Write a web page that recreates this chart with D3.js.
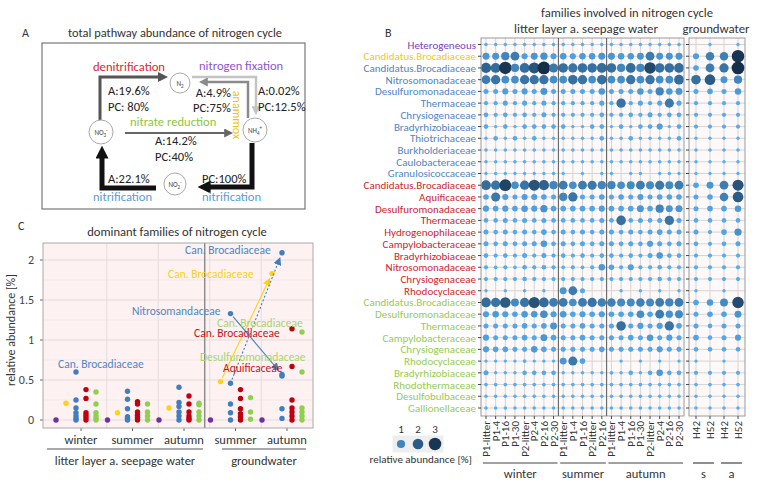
<!DOCTYPE html>
<html><head><meta charset="utf-8">
<script src="https://cdn.jsdelivr.net/npm/d3@7"></script>
<style>body{margin:0;background:#fff} svg{font-family:Carlito,Lato,"Open Sans",sans-serif}</style>
</head><body><svg id="c" width="759" height="487"></svg>
<script>
// ---------------- DATA ----------------
// Panel B (bubble grid)
const rowLabels = ["Heterogeneous","Candidatus.Brocadiaceae",
 "Candidatus.Brocadiaceae","Nitrosomonadaceae","Desulfuromonadaceae","Thermaceae","Chrysiogenaceae","Bradyrhizobiaceae","Thiotrichaceae","Burkholderiaceae","Caulobacteraceae","Granulosicoccaceae",
 "Candidatus.Brocadiaceae","Aquificaceae","Desulfuromonadaceae","Thermaceae","Hydrogenophilaceae","Campylobacteraceae","Bradyrhizobiaceae","Nitrosomonadaceae","Chrysiogenaceae","Rhodocyclaceae",
 "Candidatus.Brocadiaceae","Desulfuromonadaceae","Thermaceae","Campylobacteraceae","Chrysiogenaceae","Rhodocyclaceae","Bradyrhizobiaceae","Rhodothermaceae","Desulfobulbaceae","Gallionellaceae"];
const rowGroups = ["purple","yellow","blue","blue","blue","blue","blue","blue","blue","blue","blue","blue",
 "red","red","red","red","red","red","red","red","red","red",
 "green","green","green","green","green","green","green","green","green","green"];
const litterCols = ["P1-litter","P1-4","P1-16","P1-30","P2-litter","P2-4","P2-16","P2-30",
 "P1-litter","P1-4","P1-16","P2-litter","P2-16",
 "P1-litter","P1-4","P1-16","P1-30","P2-litter","P2-4","P2-16","P2-30"];
const litterSeasons = [["winter",0,7],["summer",8,12],["autumn",13,20]];
const gwCols = ["H42","H52","H42","H52"];
const gwSeasons = [["s",0,1],["a",2,3]];
// litter layer / seepage water abundances (21 columns per row)
const litterVals = [
 [0.04,0.04,0.04,0.04,0.04,0.04,0.04,0.04, 0.04,0.04,0.04,0.04,0.04, 0.04,0.04,0.04,0.04,0.04,0.04,0.04,0.04],
 [0.6,0.6,1.0,1.2,0.4,0.6,0.7,0.4, 0.5,0.4,0.5,0.5,0.6, 0.6,0.5,0.5,0.6,1.2,0.6,0.6,0.6],
 [1.8,1.6,3.0,1.0,1.6,2.2,3.2,1.3, 1.5,1.4,1.5,1.5,1.6, 1.5,1.0,1.6,1.0,2.5,1.5,1.5,1.6],
 [1.2,1.4,0.8,0.8,1.4,1.4,1.4,0.8, 0.8,1.5,1.4,0.8,1.5, 0.8,0.8,1.4,0.8,1.4,0.8,0.8,1.6],
 [0.2,0.2,0.4,0.2,0.4,0.2,0.6,0.2, 0.2,0.2,0.2,0.2,0.5, 0.2,0.2,0.2,0.5,0.2,1.0,0.5,0.6],
 [0.1,0.1,0.2,0.1,0.2,0.1,0.2,0.1, 0.1,0.1,0.1,0.1,0.2, 0.1,1.4,0.1,0.2,0.1,0.2,1.3,0.2],
 [0.15,0.1,0.15,0.1,0.15,0.1,0.2,0.1, 0.1,0.1,0.1,0.1,0.15, 0.1,0.1,0.15,0.1,0.2,0.1,0.15,0.15],
 [0.15,0.03,0.15,0.03,0.15,0.15,0.15,0.15, 0.15,0.03,0.03,0.15,0.15, 0.03,0.15,0.03,0.15,0.15,0.4,0.03,0.15],
 [0.03,0.15,0.03,0.15,0.03,0.15,0.03,0.03, 0.03,0.03,0.03,0.03,0.15, 0.03,0.03,0.15,0.03,0.03,0.03,0.03,0.15],
 [0.04,0.04,0.04,0.04,0.04,0.04,0.04,0.04, 0.04,0.04,0.04,0.04,0.04, 0.04,0.04,0.04,0.04,0.04,0.04,0.04,0.04],
 [0.04,0.04,0.04,0.04,0.04,0.04,0.04,0.04, 0.04,0.04,0.04,0.04,0.04, 0.04,0.04,0.04,0.04,0.04,0.04,0.04,0.04],
 [0.03,0.03,0.03,0.03,0.03,0.03,0.03,0.03, 0.03,0,0.03,0,0.03, 0.03,0,0.03,0.03,0,0.03,0.03,0.03],
 [1.6,1.4,2.6,0.8,1.4,2.2,1.8,1.0, 1.2,0.8,1.2,1.3,1.0, 1.0,0.8,0.9,1.2,0.9,1.3,0.9,1.2],
 [0.3,1.3,0.4,0.2,0.4,0.4,0.3,0.2, 1.0,1.4,0.2,0.2,0.3, 0.2,0.3,0.2,0.4,0.2,0.3,0.3,0.3],
 [0.4,0.3,0.4,0.3,0.5,0.4,0.7,0.3, 0.3,0.3,0.3,0.3,0.4, 0.3,0.3,0.3,0.6,0.3,1.0,0.6,0.6],
 [0.15,0.15,0.2,0.15,0.2,0.15,0.2,0.15, 0.15,0.15,0.15,0.15,0.2, 0.15,1.5,0.15,0.2,0.15,0.2,1.4,0.2],
 [0.2,0.15,0.2,0.15,0.2,0.15,0.3,0.15, 0.2,0.15,0.2,0.15,0.2, 0.2,0.15,0.2,0.15,0.2,0.3,0.2,0.2],
 [0.2,0.15,0.2,0.15,0.2,0.2,0.5,0.15, 0.2,0.15,0.2,0.15,0.2, 0.2,0.15,0.2,0.15,0.4,0.2,0.15,0.2],
 [0.15,0.1,0.15,0.1,0.2,0.1,0.2,0.1, 0.15,0.1,0.15,0.1,0.15, 0.15,0.1,0.15,0.1,0.2,0.5,0.15,0.15],
 [0.1,0.05,0.1,0.05,0.15,0.1,0.15,0.1, 0.05,0.1,0.05,0.1,0.5, 0.3,0.1,0.4,0.1,0.1,0.15,0.1,0.1],
 [0.1,0.1,0.1,0.1,0.15,0.1,0.1,0.1, 0.1,0.1,0.1,0.1,0.1, 0.1,0.1,0.1,0.1,0.1,0.15,0.1,0.1],
 [0.03,0,0.03,0,0.03,0,0.03,0, 0.6,1.2,0.2,0,0, 0,0.03,0,0.03,0,0.03,0,0.03],
 [1.6,1.4,2.0,0.9,1.4,2.2,1.6,1.2, 1.2,0.8,1.2,1.4,1.1, 1.1,0.9,0.9,1.1,0.9,1.2,1.0,1.2],
 [0.4,0.5,0.4,0.3,0.5,0.5,0.8,0.4, 0.5,0.3,0.4,0.3,0.4, 0.3,0.3,0.3,0.8,0.3,1.2,0.7,0.9],
 [0.2,0.2,0.2,0.2,0.3,0.2,0.3,0.6, 0.2,0.2,0.3,0.2,0.2, 0.2,1.5,0.2,0.4,0.2,0.4,1.4,0.3],
 [0.4,0.2,0.2,0.2,0.3,0.2,0.6,0.3, 0.2,0.2,0.3,0.2,0.2, 0.2,0.2,0.3,0.2,0.5,0.2,0.4,0.2],
 [0.4,0.3,0.3,0.2,0.2,0.5,0.3,0.2, 0.2,0.2,0.2,0.2,0.3, 0.2,0.2,0.2,0.2,0.2,0.4,0.2,0.2],
 [0.03,0.03,0.03,0.03,0.05,0.03,0.03,0.03, 0.6,1.3,0.3,0,0, 0,0.03,0,0.03,0,0.03,0,0.03],
 [0.2,0.03,0.03,0.03,0.15,0.15,0.15,0.15, 0.03,0.03,0.03,0.03,0.03, 0.05,0.03,0.15,0.03,0.15,0.5,0.15,0.15],
 [0.05,0.05,0.05,0.05,0.05,0.05,0.05,0.05, 0.05,0.05,0.05,0.05,0.05, 0.05,0.05,0.05,0.05,0.05,0.05,0.05,0.05],
 [0.04,0.04,0.04,0.04,0.04,0.04,0.04,0.04, 0.04,0.04,0.04,0.04,0.04, 0.04,0.04,0.04,0.04,0.04,0.04,0.04,0.04],
 [0.04,0.04,0.04,0.04,0.04,0.04,0.04,0.04, 0.04,0.04,0.04,0.04,0.04, 0.04,0.04,0.04,0.04,0.04,0.04,0.04,0.04]
];
// groundwater abundances (4 columns per row)
const gwVals = [
 [0,0.03,0,0.03],[0.4,1.1,1.1,3.0],[0.3,1.2,1.4,3.2],[1.5,2.0,0.6,1.0],[0.2,0.3,0.2,0.5],
 [0.1,0.1,0.1,0.1],[0.1,0.1,0.1,0.1],[0.1,0.1,0.1,0.1],[0.03,0.03,0.03,0.03],[0.04,0.04,0.04,0.04],
 [0.03,0.03,0.03,0.03],[0.03,0.03,0.03,0.03],
 [0.3,0.6,1.2,2.2],[0.2,0.3,1.1,2.0],[0.2,0.3,0.3,0.5],[0.15,0.15,0.15,0.15],[0.2,0.1,0.3,0.7],
 [0.15,0.1,0.15,0.2],[0.1,0.1,0.1,0.1],[0.1,0.1,0.1,0.1],[0.1,0.1,0.1,0.1],[0.03,0,0.03,0],
 [0.3,0.5,0.9,2.4],[0.2,0.3,0.3,0.6],[0.2,0.15,0.2,0.2],[0.3,0.15,0.2,0.4],[0.15,0.15,0.15,0.15],
 [0.03,0,0.03,0],[0.1,0.1,0.1,0.1],[0.05,0.05,0.05,0.05],[0.04,0.04,0.04,0.04],[0.04,0.04,0.04,0.04]
];
const legendValues = [1,2,3];

// Panel C (dominant families)
const catKeys = ["w","s","a","gs","ga"];
const catLabels = ["winter","summer","autumn","summer","autumn"];
const seriesNames = ["purple","yellow","blue","red","green"];
const purpleVals = [[0],[0],[0],[0],[0]];
const yellowVals = [[0.21],[0.09],[0.15],[0.48],[1.83]];
const blueVals = [[0.6,0.25,0.15,0.09,0.05,0.02,0],[0.36,0.26,0.14,0.04,0.02,0],[0.41,0.22,0.17,0.1,0.05,0],[1.33,0.46,0.2,0.09,0],[2.09,0.57,0.55,0.14,0.02]];
const redVals = [[0.38,0.27,0.09,0.06,0.03,0],[0.23,0.2,0.1,0.06,0.03,0],[0.3,0.2,0.1,0.05,0.02,0],[0.38,0.27,0.14,0.08,0.04,0],[1.14,0.67,0.25,0.15,0.1,0.05,0]];
const greenVals = [[0.35,0.2,0.09,0.05,0.02,0],[0.2,0.1,0.05,0],[0.21,0.19,0.1,0.05,0],[0.28,0.1,0.01],[1.1,0.6,0.15,0.1,0.05,0]];
const yTicksC = [0,0.5,1,1.5,2];

// Panel A
const pathwayLabels = ["denitrification","nitrogen fixation","nitrate reduction","anammox","nitrification"];

// ---------------- COLOURS ----------------
const col = {purple:"#7b3fb8", yellow:"#f2c81c", blue:"#4f86c4", red:"#cf1f2c", green:"#94cc58"};
const dotCol = {purple:"#7030a0", yellow:"#ffd21a", blue:"#3f7fc0", red:"#c00010", green:"#8fd14f"};
const svg = d3.select("#c");
const txt = (g,x,y,s,o={}) => {
  const t = g.append("text").attr("x",x).attr("y",y).text(s)
    .attr("font-size",o.fs||12).attr("fill",o.fill||"#333").attr("text-anchor",o.anchor||"start");
  if (o.rot) t.attr("transform",`rotate(${o.rot},${x},${y})`);
  return t;
};
const defs = svg.append("defs");
function marker(id,color,size){
  defs.append("marker").attr("id",id).attr("viewBox","0 0 10 10").attr("refX",2).attr("refY",5)
   .attr("markerWidth",size).attr("markerHeight",size).attr("markerUnits","userSpaceOnUse")
   .attr("orient","auto").append("path").attr("d","M0,0L10,5L0,10z").attr("fill",color);
}
marker("mBlack","#111",13); marker("mDark","#555",10); marker("mGrey","#8a8a8a",9);
marker("mLight","#c4c4c4",9); marker("mMid","#666",9);
marker("mYel",dotCol.yellow,8); marker("mBlue",dotCol.blue,8);

// ---------------- PANEL A ----------------
const A = svg.append("g");
txt(A,22,37,"A",{fs:12});
txt(A,175,37,"total pathway abundance of nitrogen cycle",{fs:12.4,anchor:"middle"});
A.append("rect").attr("x",42).attr("y",43).attr("width",263).attr("height",166)
 .attr("fill","none").attr("stroke","#777").attr("stroke-width",1.2);
const nodes = [{k:"N",sub:"2",sup:"",x:180,y:83,r:10},{k:"NO",sub:"3",sup:"-",x:101,y:132,r:12},
               {k:"NH",sub:"4",sup:"+",x:255,y:130,r:12},{k:"NO",sub:"2",sup:"-",x:175,y:184,r:11}];
const arrows = [
 {d:"M100,120V77H160",c:"#555",w:3,m:"mDark"},
 {d:"M192,77H256V108",c:"#c4c4c4",w:2.5,m:"mLight"},
 {d:"M248,118V82H206",c:"#8a8a8a",w:2.5,m:"mGrey"},
 {d:"M125,133H226",c:"#666",w:2,m:"mMid"},
 {d:"M252,143V187H208",c:"#111",w:5,m:"mBlack"},
 {d:"M156,188H102V156",c:"#111",w:5,m:"mBlack"}];
A.selectAll("path.ar").data(arrows).join("path").attr("d",d=>d.d).attr("fill","none")
 .attr("stroke",d=>d.c).attr("stroke-width",d=>d.w).attr("marker-end",d=>`url(#${d.m})`);
nodes.forEach(n=>{
  A.append("circle").attr("cx",n.x).attr("cy",n.y).attr("r",n.r).attr("fill","#fff").attr("stroke","#aaa");
  const t = A.append("text").attr("x",n.x).attr("y",n.y+2.5).attr("text-anchor","middle").attr("font-size",7).attr("fill","#444");
  t.append("tspan").text(n.k);
  t.append("tspan").attr("font-size",5).attr("dy",2).text(n.sub);
  if(n.sup) t.append("tspan").attr("font-size",5).attr("dy",-5).text(n.sup);
});
const fsA = 12.5;
txt(A,93,71,pathwayLabels[0],{fs:12.6,fill:"#e0262a"});
txt(A,199,70,pathwayLabels[1],{fs:12.6,fill:"#8e55cc"});
txt(A,130,126,pathwayLabels[2],{fs:12.6,fill:"#8cc63f"});
txt(A,233,115,pathwayLabels[3],{fs:12,fill:"#f2c200",anchor:"middle",rot:90});
txt(A,93,201,pathwayLabels[4],{fs:12.6,fill:"#5b9bd5"});
txt(A,202,201,pathwayLabels[4],{fs:12.6,fill:"#5b9bd5"});
txt(A,108,95,"A:19.6%",{fs:fsA,fill:"#222"}); txt(A,108,111,"PC: 80%",{fs:fsA,fill:"#222"});
txt(A,231,97,"A:4.9%",{fs:fsA,fill:"#222",anchor:"end"}); txt(A,231,112,"PC:75%",{fs:fsA,fill:"#222",anchor:"end"});
txt(A,258,95,"A:0.02%",{fs:fsA,fill:"#222"}); txt(A,258,111,"PC:12.5%",{fs:fsA,fill:"#222"});
txt(A,155,145,"A:14.2%",{fs:fsA,fill:"#222"}); txt(A,155,161,"PC:40%",{fs:fsA,fill:"#222"});
txt(A,108,183,"A:22.1%",{fs:fsA,fill:"#222"}); txt(A,202,183,"PC:100%",{fs:fsA,fill:"#222"});

// ---------------- PANEL C ----------------
const C = svg.append("g");
txt(C,18,230,"C",{fs:12});
txt(C,177,236,"dominant families of nitrogen cycle",{fs:12.6,anchor:"middle"});
const pl = {l:43,r:313,t:243,b:428};
const xC = d3.scalePoint().domain(catKeys).range([81,287]);
const dodge = d3.scalePoint().domain(seriesNames).range([-25,15]);
const yC = d3.scaleLinear().domain([0,2]).range([420,260]);
C.append("rect").attr("x",pl.l).attr("y",pl.t).attr("width",pl.r-pl.l).attr("height",pl.b-pl.t).attr("fill","#fdf1f1");
const minor = d3.range(0.25,2.2,0.5);
C.selectAll("line.mn").data(minor).join("line").attr("x1",pl.l).attr("x2",pl.r).attr("y1",d=>yC(d)).attr("y2",d=>yC(d)).attr("stroke","#f1e6e6").attr("stroke-width",0.6);
C.selectAll("line.mj").data(yTicksC).join("line").attr("x1",pl.l).attr("x2",pl.r).attr("y1",d=>yC(d)).attr("y2",d=>yC(d)).attr("stroke","#e6dcdc").attr("stroke-width",1);
const mids = d3.pairs(catKeys).map(([a,b])=>(xC(a)+xC(b))/2);
C.selectAll("line.vg").data(mids).join("line").attr("y1",pl.t).attr("y2",pl.b).attr("x1",d=>d).attr("x2",d=>d).attr("stroke","#e6dcdc");
C.selectAll("text.yt").data(yTicksC).join("text").attr("x",34).attr("y",d=>yC(d)+4).attr("text-anchor","end")
 .attr("font-size",12).attr("fill","#444").text(d=>d);
C.selectAll("line.yt").data(yTicksC).join("line").attr("x1",40).attr("x2",pl.l).attr("y1",d=>yC(d)).attr("y2",d=>yC(d)).attr("stroke","#666");
txt(C,15,330,"relative abundance [%]",{fs:12,anchor:"middle",rot:-90,fill:"#333"});
C.selectAll("line.xt").data(catKeys).join("line").attr("x1",d=>xC(d)).attr("x2",d=>xC(d)).attr("y1",pl.b).attr("y2",pl.b+3).attr("stroke","#666");
C.selectAll("text.xl").data(catKeys).join("text").attr("x",d=>xC(d)).attr("y",444).attr("text-anchor","middle")
 .attr("font-size",12.5).attr("fill","#333").text((d,i)=>catLabels[i]);
// separator between litter/seepage and groundwater
const sepX = (xC("a")+dodge("green") + xC("gs")+dodge("purple"))/2;
C.append("line").attr("x1",sepX).attr("x2",sepX).attr("y1",pl.t).attr("y2",pl.b).attr("stroke","#777").attr("stroke-width",1.2);
C.append("rect").attr("x",pl.l).attr("y",pl.t).attr("width",pl.r-pl.l).attr("height",pl.b-pl.t).attr("fill","none").attr("stroke","#aaa");
const seriesVals = {purple:purpleVals,yellow:yellowVals,blue:blueVals,red:redVals,green:greenVals};
const pts = [];
seriesNames.forEach(s=>catKeys.forEach((k,i)=>seriesVals[s][i].forEach(v=>pts.push({s,k,v}))));
C.selectAll("circle.pt").data(pts).join("circle").attr("cx",d=>xC(d.k)+dodge(d.s)).attr("cy",d=>yC(d.v))
 .attr("r",2.7).attr("fill",d=>dotCol[d.s]);
// arrows between groundwater seasons
function arrowBetween(s,i0,j0,i1,j1,color,m,dash){
  const x0=xC(catKeys[i0])+dodge(s), y0=yC(seriesVals[s][i0][j0]);
  const x1=xC(catKeys[i1])+dodge(s), y1=yC(seriesVals[s][i1][j1]);
  const L=Math.hypot(x1-x0,y1-y0), sh=11/L, st=4/L;
  C.append("line").attr("x1",x0+(x1-x0)*st).attr("y1",y0+(y1-y0)*st).attr("x2",x1-(x1-x0)*sh).attr("y2",y1-(y1-y0)*sh)
   .attr("stroke",color).attr("stroke-width",1.1).attr("stroke-dasharray",dash||null).attr("marker-end",`url(#${m})`);
}
arrowBetween("yellow",3,0,4,0,dotCol.yellow,"mYel");
arrowBetween("blue",3,1,4,0,dotCol.blue,"mBlue","2,2");
arrowBetween("blue",3,0,4,1,dotCol.blue,"mBlue");
const fsC = 11.5;
txt(C,58,368,"Can. Brocadiaceae",{fs:fsC,fill:col.blue});
txt(C,185,254,"Can. Brocadiaceae",{fs:fsC,fill:col.blue});
txt(C,168,278,"Can. Brocadiaceae",{fs:fsC,fill:"#f5d21a"});
txt(C,132,315,"Nitrosomandaceae",{fs:fsC,fill:col.blue});
txt(C,217,327,"Can. Brocadiaceae",{fs:fsC,fill:"#a8d46e"});
txt(C,194,337,"Can. Brocadiaceae",{fs:fsC,fill:"#c4161c"});
txt(C,200,361,"Desulfuromonadaceae",{fs:fsC,fill:"#a8d46e"});
txt(C,223,372,"Aquificaceae",{fs:fsC,fill:"#c4161c"});
// group labels
const groupsC = [["litter layer a. seepage water",47,203],["groundwater",222,306]];
groupsC.forEach(g=>{
  C.append("line").attr("x1",g[1]).attr("x2",g[2]).attr("y1",449).attr("y2",449).attr("stroke","#555").attr("stroke-width",1.2);
  txt(C,(g[1]+g[2])/2,465,g[0],{fs:12.5,anchor:"middle"});
});

// ---------------- PANEL B ----------------
const B = svg.append("g");
txt(B,385,37,"B",{fs:12});
txt(B,627,17,"families involved in nitrogen cycle",{fs:12.6,anchor:"middle"});
txt(B,586,33,"litter layer a. seepage water",{fs:12.8,anchor:"middle"});
txt(B,716,33,"groundwater",{fs:12.8,anchor:"middle"});
const p1 = {l:481,r:684}, p2 = {l:689,r:745}, pt = 38, pb = 416;
const x1 = d3.scalePoint().domain(d3.range(litterCols.length)).range([p1.l+5,p1.r-5]);
const x2 = d3.scalePoint().domain(d3.range(gwCols.length)).range([p2.l+7,p2.r-7]);
const yB = d3.scalePoint().domain(d3.range(rowLabels.length)).range([pt+6.5,pb-8]);
const rS = d3.scaleSqrt().domain([0,3.3]).range([1.2,6.5]);
const cS = d3.scaleLinear().domain([0,3.3]).range(["#56B1F7","#132B43"]).interpolate(d3.interpolateLab);
function panel(p,xs,vals,ncol){
  B.append("rect").attr("x",p.l).attr("y",pt).attr("width",p.r-p.l).attr("height",pb-pt).attr("fill","#fdf9f9");
  B.selectAll(null).data(d3.range(rowLabels.length)).join("line").attr("x1",p.l).attr("x2",p.r)
   .attr("y1",d=>yB(d)).attr("y2",d=>yB(d)).attr("stroke","#d9d2d2").attr("stroke-width",1);
  B.selectAll(null).data(d3.range(ncol)).join("line").attr("y1",pt).attr("y2",pb)
   .attr("x1",d=>xs(d)).attr("x2",d=>xs(d)).attr("stroke","#d9d2d2").attr("stroke-width",1);
  const cells=[]; vals.forEach((row,r)=>row.forEach((v,c)=>{ if(v>0) cells.push({r,c,v}); }));
  B.selectAll(null).data(cells).join("circle").attr("cx",d=>xs(d.c)).attr("cy",d=>yB(d.r))
   .attr("r",d=>rS(d.v)).attr("fill",d=>cS(d.v));
  B.append("rect").attr("x",p.l).attr("y",pt).attr("width",p.r-p.l).attr("height",pb-pt).attr("fill","none").attr("stroke","#9a9a9a");
  B.selectAll(null).data(d3.range(rowLabels.length)).join("line").attr("x1",p.l-3).attr("x2",p.l)
   .attr("y1",d=>yB(d)).attr("y2",d=>yB(d)).attr("stroke","#444");
  B.selectAll(null).data(d3.range(ncol)).join("line").attr("y1",pb).attr("y2",pb+3)
   .attr("x1",d=>xs(d)).attr("x2",d=>xs(d)).attr("stroke","#444");
}
panel(p1,x1,litterVals,litterCols.length);
panel(p2,x2,gwVals,gwCols.length);
// season separators in litter panel
litterSeasons.slice(1).forEach(s=>{
  const xx=(x1(s[1]-1)+x1(s[1]))/2;
  B.append("line").attr("x1",xx).attr("x2",xx).attr("y1",pt).attr("y2",pb).attr("stroke","#555").attr("stroke-width",1);
});
B.selectAll("text.rl").data(rowLabels).join("text").attr("x",476).attr("y",(d,i)=>yB(i)+4)
 .attr("text-anchor","end").attr("font-size",11).attr("fill",(d,i)=>col[rowGroups[i]]).text(d=>d);
function colLabels(labels,xs){
  B.selectAll(null).data(labels).join("text").attr("transform",(d,i)=>`translate(${xs(i)+4},421) rotate(-90)`)
   .attr("text-anchor","end").attr("font-size",11).attr("fill","#333").text(d=>d);
}
colLabels(litterCols,x1); colLabels(gwCols,x2);
function seasonLines(seasons,xs){
  seasons.forEach(s=>{
    const a=xs(s[1])-3,b=xs(s[2])+4;
    B.append("line").attr("x1",a).attr("x2",b).attr("y1",463).attr("y2",463).attr("stroke","#444").attr("stroke-width",1.2);
    txt(B,(a+b)/2,478,s[0],{fs:12.5,anchor:"middle"});
  });
}
seasonLines(litterSeasons,x1); seasonLines(gwSeasons,x2);
// legend
const lx = d3.scalePoint().domain(legendValues).range([401,435]);
B.selectAll(null).data(legendValues).join("rect").attr("x",d=>lx(d)-8.5).attr("y",435.5).attr("width",17).attr("height",17).attr("fill","#eeeeee");
B.selectAll(null).data(legendValues).join("circle").attr("cx",d=>lx(d)).attr("cy",444).attr("r",d=>rS(d)).attr("fill",d=>cS(d));
B.selectAll(null).data(legendValues).join("text").attr("x",d=>lx(d)).attr("y",433).attr("text-anchor","middle").attr("font-size",11).attr("fill","#333").text(d=>d);
txt(B,472,463,"relative abundance [%]",{fs:11,anchor:"end"});
</script></body></html>
